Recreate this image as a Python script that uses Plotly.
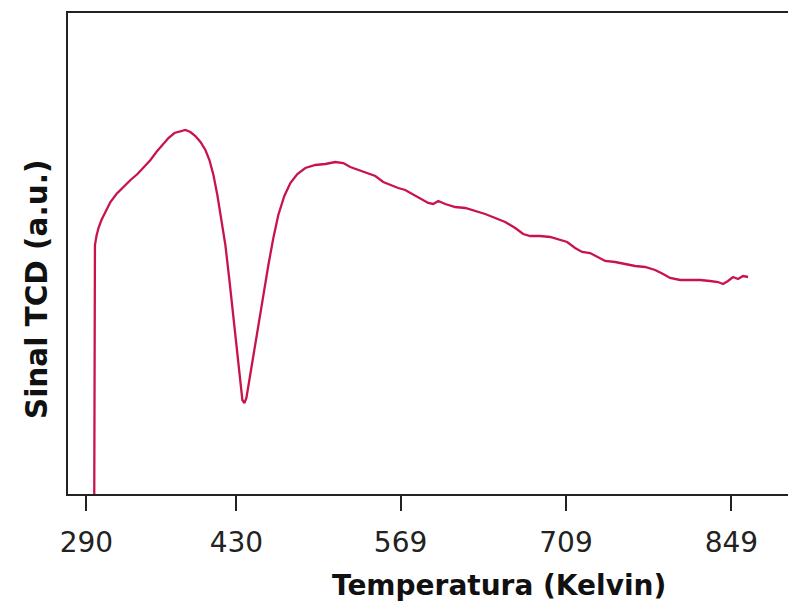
import plotly.graph_objects as go

temperature_k = [309.5, 309.9, 310.3, 311.6, 313.3, 315.8, 319.2, 323.4, 328.5, 334.4,
                 340.4, 346.3, 352.2, 357.3, 362.3, 367.4, 372.5, 377.6, 382.6, 386.9,
                 391.1, 395.3, 399.6, 403.8, 407.2, 410.6, 413.9, 417.3, 420.7, 424.1,
                 427.5, 430.8, 433.4, 435.1, 436.8, 438.5, 441.0, 444.4, 448.6, 452.8,
                 457.1, 461.3, 465.5, 470.6, 475.7, 481.6, 488.4, 496.8, 505.3, 513.7,
                 520.5, 526.4, 533.2, 540.8, 547.6, 554.3, 560.3, 567.0, 572.9, 578.9,
                 585.6, 592.4, 596.6, 600.9, 606.8, 615.2, 623.7, 632.2, 640.6, 649.1,
                 657.5, 666.0, 672.8, 678.7, 687.1, 695.6, 704.0, 710.0, 716.7, 722.6,
                 729.4, 735.3, 742.1, 750.6, 759.0, 767.5, 775.9, 784.4, 791.2, 797.1,
                 805.6, 814.0, 822.5, 830.9, 837.7, 841.9, 846.1, 850.4, 854.6, 858.8,
                 863.1]

tcd_signal = [-1.00, 1.93, 2.48, 2.57, 2.65, 2.73, 2.81, 2.91, 2.99, 3.06,
              3.13, 3.19, 3.26, 3.33, 3.41, 3.48, 3.55, 3.60, 3.62, 3.63,
              3.61, 3.57, 3.51, 3.43, 3.33, 3.18, 2.98, 2.75, 2.48, 2.13,
              1.75, 1.38, 1.08, 0.93, 0.90, 0.95, 1.13, 1.38, 1.68, 1.98,
              2.28, 2.55, 2.78, 2.97, 3.10, 3.19, 3.25, 3.28, 3.29, 3.31,
              3.30, 3.26, 3.23, 3.20, 3.17, 3.11, 3.08, 3.05, 3.03, 2.99,
              2.95, 2.90, 2.89, 2.92, 2.89, 2.86, 2.85, 2.82, 2.79, 2.75,
              2.71, 2.65, 2.59, 2.57, 2.57, 2.56, 2.53, 2.51, 2.45, 2.41,
              2.40, 2.36, 2.32, 2.31, 2.29, 2.27, 2.26, 2.23, 2.19, 2.15,
              2.13, 2.13, 2.13, 2.12, 2.11, 2.09, 2.12, 2.16, 2.14, 2.17,
              2.16]

tick_positions = [303.1, 430, 569, 709, 849]
tick_labels = ["290", "430", "569", "709", "849"]

fig = go.Figure()
fig.add_trace(go.Scatter(x=temperature_k, y=tcd_signal, mode="lines",
                         line=dict(color="#C8144B", width=2.3),
                         showlegend=False))

fig.update_layout(
    width=788, height=603,
    margin=dict(l=68, r=0, t=13, b=109),
    paper_bgcolor="white", plot_bgcolor="white",
    font=dict(family="DejaVu Sans", color="#222222"),
    xaxis=dict(range=[287.5, 896.9], showgrid=False, zeroline=False,
               showline=True, linecolor="#222222", linewidth=1.6, mirror=True,
               ticks="outside", ticklen=15, tickwidth=1.6, tickcolor="#222222",
               tickvals=tick_positions, ticktext=tick_labels,
               ticklabelstandoff=8, automargin=False,
               tickfont=dict(size=28, family="DejaVu Sans", color="#222222")),
    yaxis=dict(range=[-0.01, 4.80], showgrid=False, zeroline=False,
               showline=True, linecolor="#222222", linewidth=1.6, mirror=False,
               showticklabels=False, ticks="", automargin=False),
    annotations=[
        dict(text="<b>Temperatura (Kelvin)</b>", xref="paper", yref="paper",
             x=0.5986, y=-0.19, xanchor="center", yanchor="middle",
             showarrow=False, font=dict(size=28, family="DejaVu Sans", color="#111111")),
        dict(text="<b>Sinal TCD (a.u.)</b>", xref="paper", yref="paper",
             x=-0.043, y=0.424, xanchor="center", yanchor="middle", textangle=-90,
             showarrow=False, font=dict(size=29.5, family="DejaVu Sans", color="#111111")),
    ],
)

fig.write_html("out.html", config={"displayModeBar": False},
               post_script="document.body.style.margin='0';document.body.style.overflow='hidden';")
